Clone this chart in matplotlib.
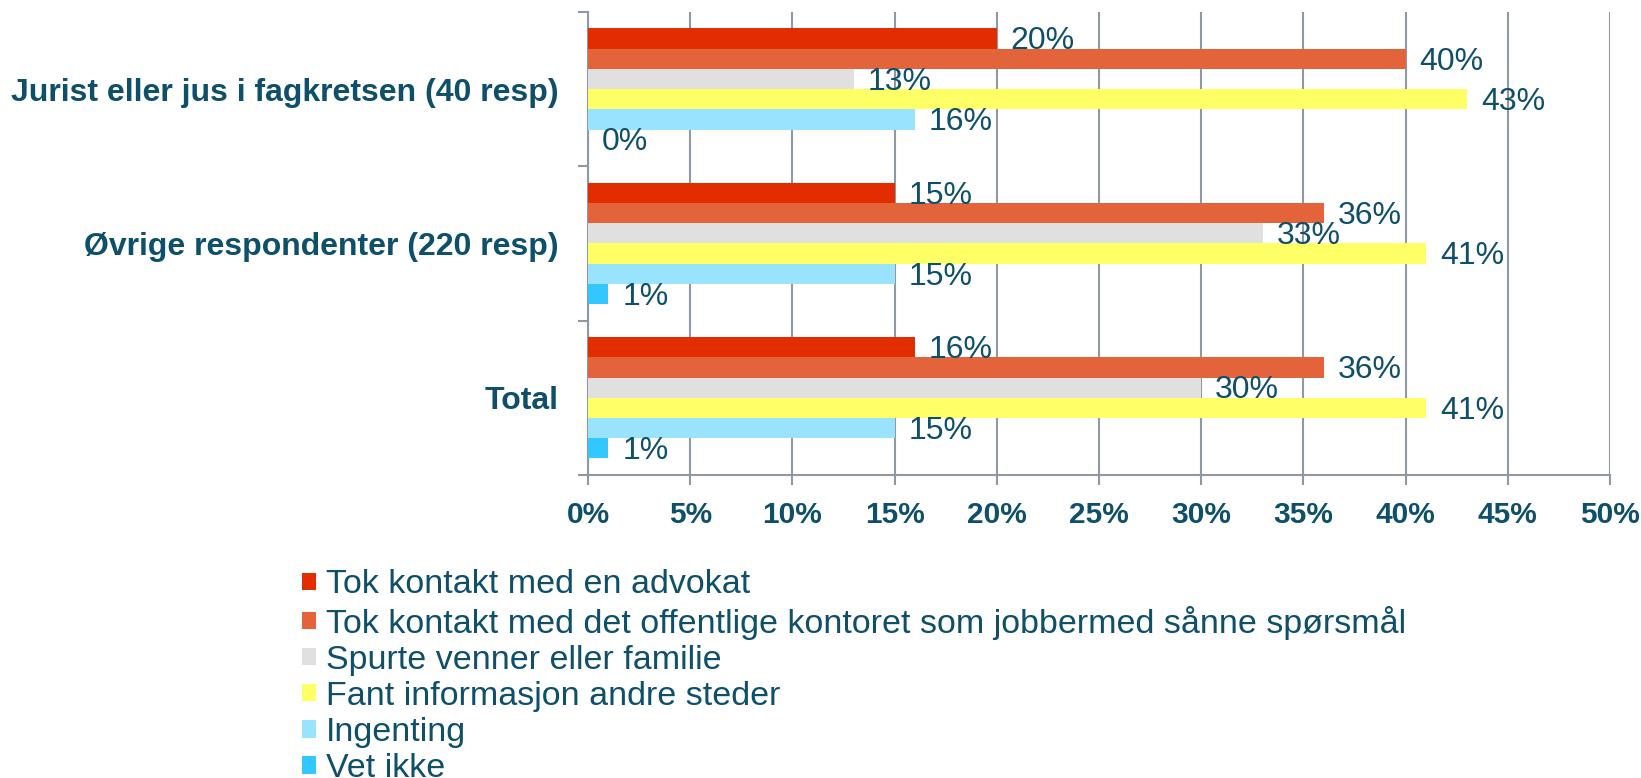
import numpy as np
import matplotlib.pyplot as plt
from matplotlib.ticker import FixedLocator

plt.rcParams['font.family'] = ['Liberation Sans', 'DejaVu Sans']

categories = ["Jurist eller jus i fagkretsen (40 resp)", "Øvrige respondenter (220 resp)", "Total"]
series_names = [
    "Tok kontakt med en advokat",
    "Tok kontakt med det offentlige kontoret som jobbermed sånne spørsmål",
    "Spurte venner eller familie",
    "Fant informasjon andre steder",
    "Ingenting",
    "Vet ikke",
]
advokat = [20, 15, 16]
offentlig = [40, 36, 36]
venner = [13, 33, 30]
andre_steder = [43, 41, 41]
ingenting = [16, 15, 15]
vet_ikke = [0, 1, 1]
x_ticks = [0, 5, 10, 15, 20, 25, 30, 35, 40, 45, 50]

series = [advokat, offentlig, venner, andre_steder, ingenting, vet_ikke]
colors = ['#E12D00', '#E3633A', '#E0E0E0', '#FFFF66', '#99E3FF', '#33C7FF']
txt = '#0E4F69'
grid_c = '#8E99A4'

fig = plt.figure(figsize=(16.41, 7.78), dpi=100)
ax = fig.add_axes([0.3583, 0.3895, 0.9811 - 0.3583, 0.9846 - 0.3895])

# grouped horizontal bars, one row per series inside each category
h = 0.131
pos = np.arange(len(categories))
for j, (vals, c) in enumerate(zip(series, colors)):
    y = pos + (j - 2.5) * h
    ax.barh(y, vals, height=h, color=c, label=series_names[j], zorder=3)
    for yy, v in zip(y, vals):
        ax.annotate(f"{v}%", (v, yy), xytext=(10, -2), textcoords='offset points',
                    ha='left', va='center', fontsize=23, color=txt, zorder=4)

ax.set_xlim(0, 50)
ax.set_ylim(2.5, -0.5)
ax.set_xticks(x_ticks)
ax.set_xticklabels([f"{t}%" for t in x_ticks], fontsize=21.5, fontweight='bold', color=txt)
ax.set_yticks(pos)
ax.set_yticklabels(categories, fontsize=23, fontweight='bold', color=txt)
ax.yaxis.set_minor_locator(FixedLocator([-0.5, 0.5, 1.5, 2.5]))
ax.tick_params(axis='y', which='major', length=0, pad=21)
ax.tick_params(axis='y', which='minor', length=7, width=1.5, color=grid_c)
ax.tick_params(axis='x', length=7, width=1.5, color=grid_c, pad=12)
ax.grid(axis='x', color=grid_c, linewidth=1.5, zorder=0)
for s in ['top', 'right']:
    ax.spines[s].set_visible(False)
for s in ['left', 'bottom']:
    ax.spines[s].set_color(grid_c)
    ax.spines[s].set_linewidth(1.5)

fig.legend(loc='upper left', bbox_to_anchor=(0.184, 0.268), frameon=False,
           fontsize=24.5, labelcolor=txt, handlelength=0.42, handleheight=0.42,
           handletextpad=0.28, labelspacing=0.15, borderpad=0, borderaxespad=0)

fig.savefig('out.png', dpi=100)
